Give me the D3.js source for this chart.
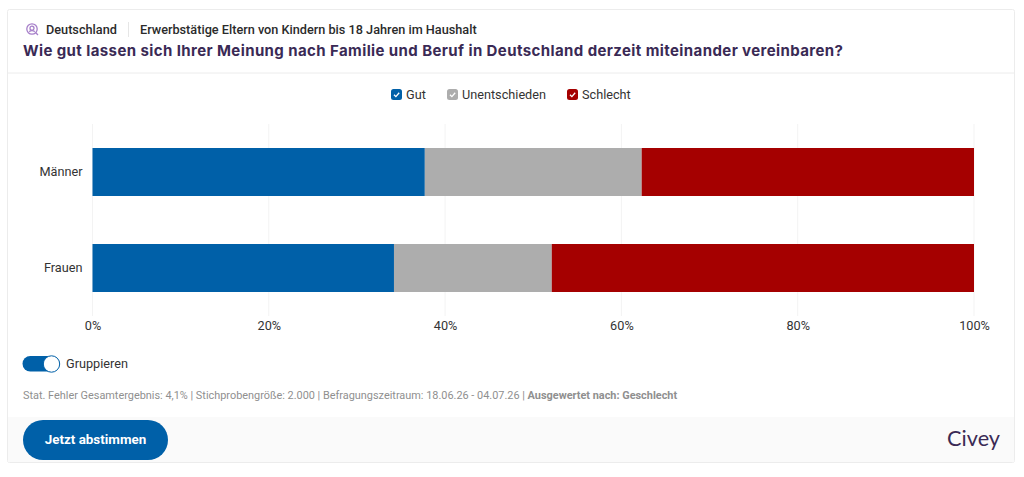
<!DOCTYPE html>
<html lang="de">
<head>
  <meta charset="UTF-8" />
  <title>Civey - Familie und Beruf</title>
  <script src="https://d3js.org/d3.v7.min.js"></script>
  <style>
    html, body {
      margin: 0;
      padding: 0;
      background: #fff;
      overflow: hidden;
    }
    svg { display: block; }
    text { font-family: Roboto, sans-serif; }
  </style>
</head>
<body>
  <svg id="chart" width="1024" height="477"></svg>

  <script>
    const categories = ["Männer", "Frauen"];
    const seriesNames = ["Gut", "Unentschieden", "Schlecht"];
    const gut = [37.7, 34.2];
    const unentschieden = [24.6, 17.9];
    const schlecht = [37.7, 47.9];
    const seriesColors = ["#0060a8", "#adadad", "#a50000"];
    const xTicks = [0, 20, 40, 60, 80, 100];
    const legendX = [391, 447, 567];

    const svg = d3.select("#chart");
    const rows = categories.map((c, i) => ({ cat: c, Gut: gut[i], Unentschieden: unentschieden[i], Schlecht: schlecht[i] }));

    // card
    svg.append("rect").attr("x", 7.5).attr("y", 9.5).attr("width", 1007).attr("height", 453)
      .attr("rx", 2).attr("fill", "#fff").attr("stroke", "#ececec");
    svg.append("line").attr("x1", 8).attr("x2", 1014).attr("y1", 73).attr("y2", 73)
      .attr("stroke", "#ececec").attr("stroke-width", 1);
    svg.append("rect").attr("x", 8).attr("y", 417).attr("width", 1006).attr("height", 45).attr("fill", "#fafafa");

    // header
    const icon = svg.append("g").attr("transform", "translate(32,29)")
      .attr("fill", "none").attr("stroke", "#a67fc9").attr("stroke-width", 1.3);
    icon.append("circle").attr("r", 5.2);
    icon.append("circle").attr("r", 2).attr("cy", -0.8);
    icon.append("path").attr("d", "M-2.8,2.6 Q0,0.8 2.8,2.6 M3.8,3.8 L6,6");

    svg.append("text").attr("x", 46).attr("y", 33.5).attr("font-size", 12.7).attr("font-weight", 500)
      .attr("fill", "#2b2b2b").text("Deutschland");
    svg.append("line").attr("x1", 128.5).attr("x2", 128.5).attr("y1", 22).attr("y2", 37).attr("stroke", "#e6e6e6");
    svg.append("text").attr("x", 140).attr("y", 33.5).attr("font-size", 12.7).attr("font-weight", 500)
      .attr("fill", "#2b2b2b").text("Erwerbstätige Eltern von Kindern bis 18 Jahren im Haushalt");
    svg.append("text").attr("x", 23).attr("y", 56).attr("font-size", 15).attr("font-weight", 700)
      .attr("fill", "#3a2a55").style("font-family", "Inter, sans-serif")
      .attr("textLength", 820).attr("lengthAdjust", "spacing")
      .text("Wie gut lassen sich Ihrer Meinung nach Familie und Beruf in Deutschland derzeit miteinander vereinbaren?");

    // legend
    const legend = svg.append("g").selectAll("g").data(seriesNames).enter().append("g")
      .attr("transform", (d, i) => `translate(${legendX[i]},89)`);
    legend.append("rect").attr("width", 11).attr("height", 11).attr("rx", 2.5)
      .attr("fill", (d, i) => seriesColors[i]);
    legend.append("path").attr("d", "M3,5.7 L4.9,7.6 L8.2,3.8").attr("fill", "none")
      .attr("stroke", "#fff").attr("stroke-width", 1.3);
    legend.append("text").attr("x", 15).attr("y", 10).attr("font-size", 12.7).attr("fill", "#333").text(d => d);

    // scales
    const x = d3.scaleLinear().domain([0, 100]).range([92.5, 974]);
    const y = d3.scaleBand().domain(categories).range([124, 316]).paddingInner(0.5).paddingOuter(0.25);

    // grid
    svg.append("g").selectAll("line").data(xTicks).enter().append("line")
      .attr("x1", d => x(d)).attr("x2", d => x(d)).attr("y1", 124).attr("y2", 316)
      .attr("stroke", "#f3f3f3").attr("stroke-width", 1);

    // bars
    const stack = d3.stack().keys(seriesNames)(rows);
    svg.append("g").selectAll("g").data(stack).enter().append("g")
      .attr("fill", (d, i) => seriesColors[i])
      .selectAll("rect").data(d => d).enter().append("rect")
      .attr("x", d => x(d[0]))
      .attr("y", d => y(d.data.cat))
      .attr("width", d => x(d[1]) - x(d[0]))
      .attr("height", y.bandwidth());

    // axes
    const xAxis = svg.append("g").attr("transform", "translate(0,316)")
      .call(d3.axisBottom(x).tickValues(xTicks).tickFormat(d => d + "%").tickSize(0).tickPadding(5));
    xAxis.select(".domain").remove();
    xAxis.selectAll("text").attr("font-size", 12.7).attr("fill", "#333").style("font-family", "Roboto, sans-serif");

    const yAxis = svg.append("g").attr("transform", "translate(92.5,0)")
      .call(d3.axisLeft(y).tickSize(0).tickPadding(10));
    yAxis.select(".domain").remove();
    yAxis.selectAll("text").attr("font-size", 12.7).attr("fill", "#333").style("font-family", "Roboto, sans-serif");

    // toggle
    svg.append("rect").attr("x", 22.5).attr("y", 356).attr("width", 37).attr("height", 15.5).attr("rx", 7.75).attr("fill", "#0060a8");
    svg.append("circle").attr("cx", 51.5).attr("cy", 364).attr("r", 8.2).attr("fill", "#fff").attr("stroke", "#0060a8").attr("stroke-width", 1);
    svg.append("text").attr("x", 66).attr("y", 368).attr("font-size", 12.7).attr("fill", "#333").text("Gruppieren");

    // footnote
    const note = svg.append("text").attr("x", 23).attr("y", 399).attr("font-size", 10.9).attr("fill", "#8f8f8f");
    note.append("tspan").text("Stat. Fehler Gesamtergebnis: 4,1% | Stichprobengröße: 2.000 | Befragungszeitraum: 18.06.26 - 04.07.26 | ");
    note.append("tspan").attr("font-weight", 700).text("Ausgewertet nach: Geschlecht");

    // button + brand
    svg.append("rect").attr("x", 23).attr("y", 420).attr("width", 145).attr("height", 40).attr("rx", 20).attr("fill", "#0060a8");
    svg.append("text").attr("x", 95.5).attr("y", 444).attr("text-anchor", "middle").attr("font-size", 13.4)
      .attr("font-weight", 700).attr("fill", "#fff").text("Jetzt abstimmen");
    svg.append("text").attr("x", 1000).attr("y", 446).attr("text-anchor", "end").attr("font-size", 21.7)
      .attr("fill", "#3a2a55").style("font-family", "Lato, sans-serif").text("Civey");
  </script>
</body>
</html>
